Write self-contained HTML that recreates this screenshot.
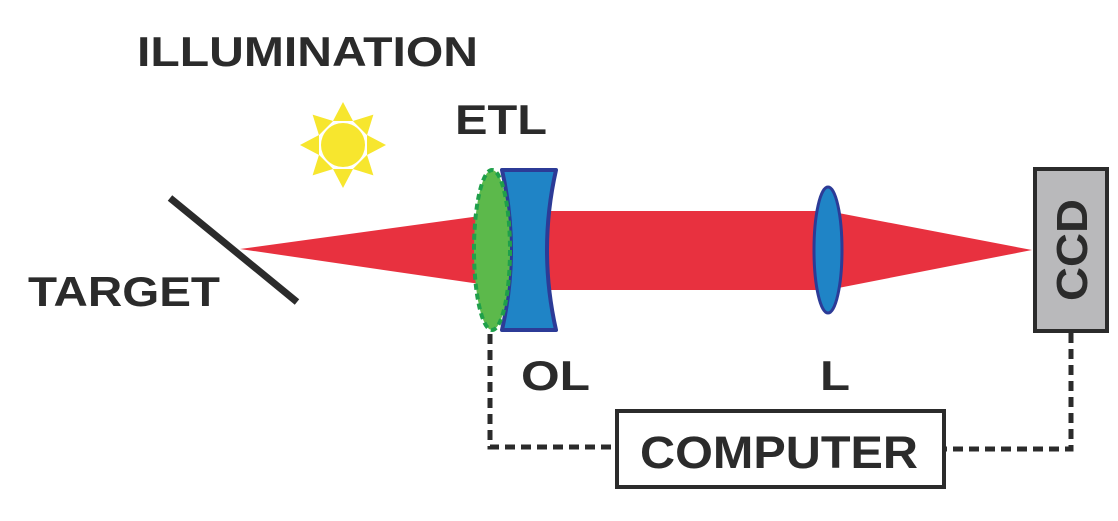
<!DOCTYPE html>
<html><head><style>body{margin:0;background:#fff}</style></head><body>
<svg width="1118" height="516" viewBox="0 0 1118 516" xmlns="http://www.w3.org/2000/svg" font-family="Liberation Sans, Arial, sans-serif" font-weight="bold" fill="#2b2b2b">
<polygon points="240,249 480,216 480,284" fill="#e8313f"/>
<rect x="480" y="211" width="350" height="79" fill="#e8313f"/>
<polygon points="828,211 1032,250 828,290" fill="#e8313f"/>
<line x1="170" y1="198" x2="297" y2="302" stroke="#2b2b2b" stroke-width="7"/>
<g fill="#f7e62e">
<circle cx="343" cy="145" r="22"/>
<g transform="translate(343,145)">
<polygon points="-10,-24 10,-24 0,-43"/><polygon points="-10,-24 10,-24 0,-43" transform="rotate(45)"/><polygon points="-10,-24 10,-24 0,-43" transform="rotate(90)"/><polygon points="-10,-24 10,-24 0,-43" transform="rotate(135)"/><polygon points="-10,-24 10,-24 0,-43" transform="rotate(180)"/><polygon points="-10,-24 10,-24 0,-43" transform="rotate(225)"/><polygon points="-10,-24 10,-24 0,-43" transform="rotate(270)"/><polygon points="-10,-24 10,-24 0,-43" transform="rotate(315)"/>
</g></g>
<path d="M502,170 L556,170 Q538,250 556,330 L502,330 Q520,250 502,170 Z" fill="#1f84c6" stroke="#2c3b97" stroke-width="4" stroke-linejoin="round"/>
<ellipse cx="492" cy="250" rx="18" ry="80" fill="#5cb94b" stroke="#1fa04a" stroke-width="4" stroke-dasharray="6,4"/>
<ellipse cx="828" cy="250" rx="14" ry="63" fill="#1f84c6" stroke="#2c3b97" stroke-width="3"/>
<rect x="1035" y="169" width="72" height="162" fill="#b9b9bb" stroke="#2b2b2b" stroke-width="4"/>
<text transform="translate(1087,250) rotate(-90)" text-anchor="middle" font-size="44" textLength="102" lengthAdjust="spacingAndGlyphs">CCD</text>
<rect x="617" y="411" width="327" height="76" fill="#fff" stroke="#2b2b2b" stroke-width="4"/>
<text x="640" y="468" font-size="45" textLength="278" lengthAdjust="spacingAndGlyphs">COMPUTER</text>
<path d="M490,334 V447 H616" fill="none" stroke="#2b2b2b" stroke-width="5" stroke-dasharray="10,6"/>
<path d="M1071,333 V449 H946" fill="none" stroke="#2b2b2b" stroke-width="5" stroke-dasharray="10,6"/>
<text x="137" y="66" font-size="42" textLength="341" lengthAdjust="spacingAndGlyphs">ILLUMINATION</text>
<text x="455" y="134" font-size="42" textLength="92" lengthAdjust="spacingAndGlyphs">ETL</text>
<text x="28" y="306" font-size="42" textLength="192" lengthAdjust="spacingAndGlyphs">TARGET</text>
<text x="521" y="390" font-size="42" textLength="69" lengthAdjust="spacingAndGlyphs">OL</text>
<text x="820" y="390" font-size="42" textLength="30" lengthAdjust="spacingAndGlyphs">L</text>
</svg>
</body></html>
